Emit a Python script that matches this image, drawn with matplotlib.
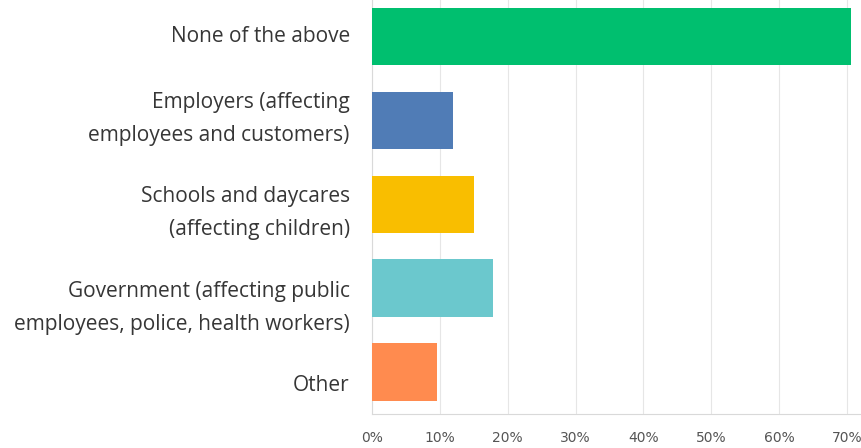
import matplotlib.pyplot as plt

categories = ['None of the above',
              'Employers (affecting\nemployees and customers)',
              'Schools and daycares\n(affecting children)',
              'Government (affecting public\nemployees, police, health workers)',
              'Other']
values = [70.6, 11.9, 15.0, 17.8, 9.6]
colors = ['#00BF6F', '#507CB6', '#F9BE00', '#6BC8CD', '#FF8B4F']
ticks = [0, 10, 20, 30, 40, 50, 60, 70]
tick_labels = [str(t) + '%' for t in ticks]

# labels in the original sit a little off their bars (pixels, downwards)
label_shift = [0.5, -1, 9, 20, 13]

plt.rcParams['font.family'] = ['Open Sans', 'DejaVu Sans']

fig = plt.figure(figsize=(8.62, 4.48), dpi=100)
ax = fig.add_axes([372 / 862, 34 / 448, 490 / 862, 414 / 448])

pos = list(range(len(categories)))
ax.barh(pos, values, height=0.68, color=colors, zorder=3)

ax.set_xlim(0, 72.2)
ax.set_ylim(4.5, -0.43)
ax.set_xticks(ticks)
ax.set_xticklabels(tick_labels, fontsize=10, color='#555555',
                   family=['DejaVu Sans'])
ax.set_yticks(pos)
ax.set_yticklabels([])
ax.tick_params(axis='both', length=0)
ax.tick_params(axis='x', pad=12)

for i, lab in enumerate(categories):
    ax.annotate(lab, xy=(0, i), xycoords=('axes fraction', 'data'),
                xytext=(-16, -label_shift[i] * 0.72), textcoords='offset points',
                ha='right', va='center', multialignment='right',
                fontsize=15, color='#363636', linespacing=1.7,
                annotation_clip=False)

ax.grid(axis='x', color='#E6E6E6', linewidth=0.8, zorder=0)
for side in ['top', 'right']:
    ax.spines[side].set_visible(False)
ax.spines['left'].set_color('#D9D9D9')
ax.spines['bottom'].set_color('#D9D9D9')

fig.savefig('out.png', dpi=100)
